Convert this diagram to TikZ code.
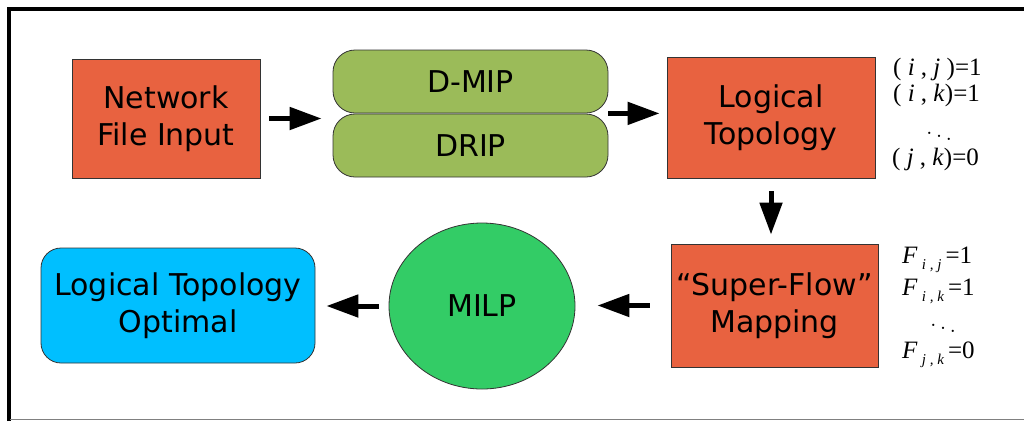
\documentclass[tikz,border=0pt]{standalone}
\usepackage{amsmath, amssymb}
\usepackage{fontspec}
\usepackage{xcolor}
\usepackage{tikz}
\usetikzlibrary{arrows.meta, shapes.geometric, positioning}

\newfontfamily\boxfont{DejaVu Sans}
\newfontfamily\eqfont{Liberation Serif}
\newcommand{\subidx}[1]{\raisebox{-6pt}{\fontsize{15}{15}\selectfont\itshape #1}}
\definecolor{boxred}{RGB}{232,98,64}
\definecolor{boxgreen}{RGB}{155,187,89}
\definecolor{milpgreen}{RGB}{51,204,102}
\definecolor{boxcyan}{RGB}{0,191,255}

\begin{document}
\begin{tikzpicture}[x=1pt, y=-1pt,
    basebox/.style={draw=black!80, line width=0.8pt, align=center, inner sep=0pt,
        font=\boxfont\fontsize{30}{37}\selectfont},
    redbox/.style={basebox, fill=boxred},
    greenbox/.style={basebox, fill=boxgreen, rounded corners=22pt,
        minimum width=275pt, minimum height=63pt},
    bigarrow/.style={line width=5pt, -{Triangle[length=32pt, width=22pt]}},
    eqn/.style={font=\eqfont\fontsize{25}{29}\selectfont, inner sep=0pt},
    dotsnode/.style={font=\fontsize{28}{28}\selectfont, inner sep=0pt}]
                \useasboundingbox (0,0) rectangle (1024,421);
                % 1. Khung
                \draw[line width=4pt] (8.5,421) -- (8.5,8.5) -- (1024,8.5);
                \draw[gray, line width=1.5pt] (10,419.5) -- (1024,419.5);
                
                % 2. Các khối
                \node[redbox, minimum width=188pt, minimum height=119pt] (net) at (166,118.5) {Network\\File Input};
                \node[greenbox] (dmip) at (470.5,81.5) {D-MIP};
                \node[greenbox] (drip) at (470.5,145.5) {DRIP};
                \node[redbox, minimum width=208pt, minimum height=121pt] (logic) at (771,117.5) {Logical\\Topology};
                \node[redbox, minimum width=207pt, minimum height=123pt] (super) at (774.5,305.5) {“Super-Flow”\\Mapping};
                \node[basebox, ellipse, fill=milpgreen, minimum width=186pt, minimum height=166pt] (milp) at (482,306) {MILP};
                \node[basebox, fill=boxcyan, rounded corners=20pt, minimum width=274pt, minimum height=115pt] (opt) at (178,305.5) {Logical Topology\\Optimal};
                
                % 3. Mũi tên
                \draw[bigarrow, shorten <=9pt, shorten >=11pt] (net.east) -- (net.east -| dmip.west);
                \draw[bigarrow, shorten >=7pt] (dmip.south east) -- (dmip.south east -| logic.west);
                \draw[bigarrow, shorten <=13pt, shorten >=9pt] (logic.south) -- (logic.south |- super.north);
                \draw[bigarrow, shorten <=21pt, shorten >=22pt] (super.west) -- (super.west -| milp.east);
                \draw[bigarrow, shorten <=10pt, shorten >=11pt] (milp.west) -- (milp.west -| opt.east);
                
                % 4. Giá trị
                \node[eqn, anchor=base west] (lij) at (893,75) {( \textit{i} , \textit{j} )=1};
                \node[eqn, anchor=base west] (lik) at (893,101) {( \textit{i} , \textit{k})=1};
                \node[dotsnode] (ldots) at (939,133) {$\ddots$};
                \node[eqn, anchor=base west] (ljk) at (892,165) {( \textit{j} , \textit{k})=0};
                \node[eqn, anchor=base west] (fij) at (902,263) {\textit{F}\,\subidx{i , j}\,=1};
                \node[eqn, anchor=base west] (fik) at (902,295) {\textit{F}\,\subidx{i , k}\,=1};
                \node[dotsnode] (fdots) at (943,325) {$\ddots$};
                \node[eqn, anchor=base west] (fjk) at (902,358) {\textit{F}\,\subidx{j , k}\,=0};
            \end{tikzpicture}
\end{document}
